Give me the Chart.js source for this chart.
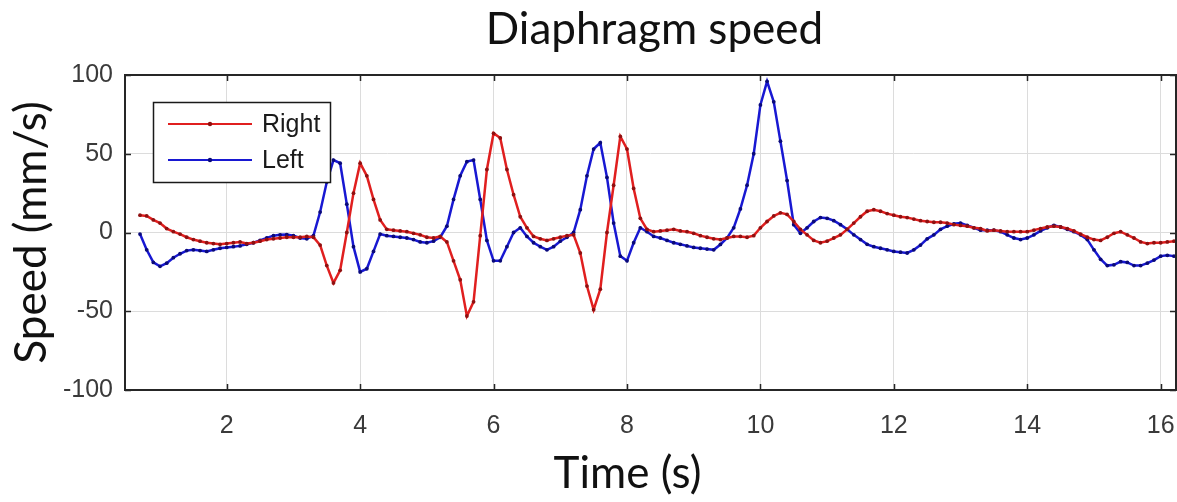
<!DOCTYPE html>
<html>
<head>
<meta charset="utf-8">
<script src="https://cdn.jsdelivr.net/npm/chart.js@4.4.0/dist/chart.umd.min.js"></script>
<style>
  html, body { margin: 0; padding: 0; background: #fff; }
  #wrap { width: 1177px; height: 502px; position: relative; }
</style>
</head>
<body>
<div id="wrap"><canvas id="c" width="1177" height="502"></canvas></div>
<script>
const chartTitle = "Diaphragm speed";
const xTitle = "Time (s)";
const yTitle = "Speed (mm/s)";
const seriesNames = ["Right", "Left"];
const xTicks = [2, 4, 6, 8, 10, 12, 14, 16];
const yTicks = [-100, -50, 0, 50, 100];

const times = [
  0.7,0.8,0.9,1.0,1.1,1.2,1.3,1.4,1.5,1.6,1.7,1.8,1.9,2.0,2.1,2.2,2.3,2.4,2.5,2.6,
  2.7,2.8,2.9,3.0,3.1,3.2,3.3,3.4,3.5,3.6,3.7,3.8,3.9,4.0,4.1,4.2,4.3,4.4,4.5,4.6,
  4.7,4.8,4.9,5.0,5.1,5.2,5.3,5.4,5.5,5.6,5.7,5.8,5.9,6.0,6.1,6.2,6.3,6.4,6.5,6.6,
  6.7,6.8,6.9,7.0,7.1,7.2,7.3,7.4,7.5,7.6,7.7,7.8,7.9,8.0,8.1,8.2,8.3,8.4,8.5,8.6,
  8.7,8.8,8.9,9.0,9.1,9.2,9.3,9.4,9.5,9.6,9.7,9.8,9.9,10.0,10.1,10.2,10.3,10.4,10.5,10.6,
  10.7,10.8,10.9,11.0,11.1,11.2,11.3,11.4,11.5,11.6,11.7,11.8,11.9,12.0,12.1,12.2,12.3,12.4,12.5,12.6,
  12.7,12.8,12.9,13.0,13.1,13.2,13.3,13.4,13.5,13.6,13.7,13.8,13.9,14.0,14.1,14.2,14.3,14.4,14.5,14.6,
  14.7,14.8,14.9,15.0,15.1,15.2,15.3,15.4,15.5,15.6,15.7,15.8,15.9,16.0,16.1,16.2
];

const rightSpeed = [
  11,10.5,8,6,2.5,0.5,-1,-3,-4.5,-5.5,-6.5,-7,-7.5,-7,-6.5,-6,-7,-6.5,-5.5,-4.5,
  -4,-3.5,-3,-3,-3,-2.5,-3,-8,-21,-32,-24,0,25,44,36,21,8,2,1.5,1,
  0.5,-0.5,-1.5,-3,-3.5,-2.5,-6,-18,-30,-53,-44,-2,40,63,60,40,24,10,3,-2.5,
  -4,-5,-4,-3,-2,-1.5,-13,-34,-49,-36,0,30,61,53,28,9,2,0.5,1,1.5,
  2,1,0.5,-0.5,-2,-3,-4,-4.5,-3.5,-2.5,-2.5,-3,-2,3,7,10.5,12.5,11.5,7,2,
  -1.5,-5,-6.5,-5.5,-3.5,-1.5,2,6,10,13.5,14.5,13.5,12,11,10,9.5,8.5,7.5,7,6.5,
  6.5,6,5,4.5,4,3,2.5,1,1.5,1,0.5,0.5,0.5,0.5,1.5,2.5,3.5,4,3.5,2.5,
  1,-1,-3,-4.5,-5,-3,-0.5,0.5,-1.5,-3.5,-6,-7,-6.5,-6.5,-6,-5.5
];

const leftSpeed = [
  -1,-11,-19,-21.5,-19.5,-16,-13.5,-11.5,-11,-11.5,-12,-11,-10,-9.5,-9,-8.5,-7.5,-6.5,-5,-3.5,
  -2,-1.5,-1.3,-2,-3.5,-4,-2,13,32,46,44,18,-9,-25,-23,-12,-1,-2,-2.5,-3,
  -3.5,-4.5,-6,-6.5,-5.5,-3,4,21,36,45,46,21,-5,-18,-18,-9,0,3,-2.5,-6.5,
  -9,-11,-9,-5.5,-3,0,14.5,36,53,57,35,6,-15,-18,-6.5,3,0.5,-2.5,-3.5,-5,
  -6.5,-7.5,-8.5,-9.5,-10,-10.5,-11,-7.6,-3.5,3,15,30,50,81,96,83,58,33,5,-0.5,
  3,7,9.5,9,7.5,5,2,-1.5,-4.5,-7.5,-9,-10,-11,-12,-12.5,-13,-11,-8,-4,-1.5,
  2,4,5.5,6,4.5,3,1.5,1.5,1.5,0.5,-1.5,-3.5,-4.5,-3.5,-1.5,1,3,4.5,3.5,2,
  0.5,-1.5,-4.5,-11,-17,-21,-20.5,-18.5,-19,-21,-21,-19.5,-17.5,-15,-14.5,-15
];

const seriesColors = ["#e01f1f", "#1818d2"];
const markerColors = ["#8f1010", "#0a0a78"];

function toPoints(vals) { return times.map((t, i) => ({ x: t, y: vals[i] })); }

const frameColor = "#262626";
const bigFont = "Lato, 'Open Sans', sans-serif";
const smallFont = "'Liberation Sans', Arial, sans-serif";

const boxPlugin = {
  id: "matlabBox",
  afterDatasetsDraw(chart) {
    const { ctx, chartArea: a, scales } = chart;
    ctx.save();
    ctx.strokeStyle = frameColor;
    ctx.lineWidth = 1.5;
    const tl = 6;
    ctx.beginPath();
    xTicks.forEach(v => {
      const px = Math.round(scales.x.getPixelForValue(v)) + 0.5;
      ctx.moveTo(px, a.bottom); ctx.lineTo(px, a.bottom - tl);
      ctx.moveTo(px, a.top); ctx.lineTo(px, a.top + tl);
    });
    yTicks.forEach(v => {
      const py = Math.round(scales.y.getPixelForValue(v)) + 0.5;
      ctx.moveTo(a.left, py); ctx.lineTo(a.left + tl, py);
      ctx.moveTo(a.right, py); ctx.lineTo(a.right - tl, py);
    });
    ctx.stroke();
    ctx.lineWidth = 2;
    ctx.strokeRect(a.left, a.top, a.right - a.left, a.bottom - a.top);

    // title centred over the axes
    ctx.fillStyle = "#111111";
    ctx.font = "44px " + bigFont;
    ctx.textAlign = "center";
    ctx.textBaseline = "middle";
    ctx.fillText(chartTitle, (a.left + a.right) / 2 + 4, 30);

    // x axis title (placed slightly left of centre, as in the reference)
    ctx.fillText(xTitle, (a.left + a.right) / 2 - 23, 474);

    // legend box (inside the axes, MATLAB style)
    const lx = 153, ly = 102, lw = 177, lh = 80;
    ctx.fillStyle = "#ffffff";
    ctx.fillRect(lx, ly, lw, lh);
    ctx.lineWidth = 1.5;
    ctx.strokeStyle = "#1a1a1a";
    ctx.strokeRect(lx + 0.5, ly + 0.5, lw, lh);
    chart.data.datasets.forEach((ds, i) => {
      const yy = ly + 22 + i * 36;
      ctx.strokeStyle = ds.borderColor;
      ctx.lineWidth = 1.8;
      ctx.beginPath(); ctx.moveTo(168, yy); ctx.lineTo(252, yy); ctx.stroke();
      ctx.fillStyle = ds.pointBackgroundColor;
      ctx.beginPath(); ctx.arc(210, yy, 2.2, 0, Math.PI * 2); ctx.fill();
      ctx.fillStyle = "#1a1a1a";
      ctx.font = "25px " + smallFont;
      ctx.textBaseline = "middle";
      ctx.textAlign = "left";
      ctx.fillText(ds.label, 262, yy + 1);
    });
    ctx.restore();
  }
};

new Chart(document.getElementById("c"), {
  type: "line",
  data: {
    datasets: [
      {
        label: seriesNames[0],
        data: toPoints(rightSpeed),
        borderColor: seriesColors[0],
        backgroundColor: seriesColors[0],
        pointBackgroundColor: markerColors[0],
        pointBorderColor: markerColors[0],
        borderWidth: 2.5,
        pointRadius: 1.9,
        pointBorderWidth: 0,
        tension: 0,
        fill: false
      },
      {
        label: seriesNames[1],
        data: toPoints(leftSpeed),
        borderColor: seriesColors[1],
        backgroundColor: seriesColors[1],
        pointBackgroundColor: markerColors[1],
        pointBorderColor: markerColors[1],
        borderWidth: 2.5,
        pointRadius: 1.9,
        pointBorderWidth: 0,
        tension: 0,
        fill: false
      }
    ]
  },
  options: {
    responsive: false,
    animation: false,
    devicePixelRatio: 1,
    layout: { autoPadding: false, padding: { left: 0, right: 1, top: 75, bottom: 0 } },
    plugins: {
      legend: { display: false },
      tooltip: { enabled: false },
      title: { display: false }
    },
    scales: {
      x: {
        type: "linear",
        min: 0.475,
        max: 16.23,
        afterBuildTicks: (s) => { s.ticks = xTicks.map(v => ({ value: v })); },
        afterFit: (s) => { s.height = 112; s.paddingLeft = 0; s.paddingRight = 0; },
        grid: { color: "#dcdcdc", lineWidth: 1, drawTicks: false, drawOnChartArea: true },
        border: { display: false },
        ticks: {
          padding: 21,
          color: "#3a3a3a",
          font: { family: smallFont, size: 25 },
          maxRotation: 0
        },
        title: { display: false, text: xTitle }
      },
      y: {
        min: -100,
        max: 100,
        afterBuildTicks: (s) => { s.ticks = yTicks.map(v => ({ value: v })); },
        afterFit: (s) => { s.width = 125; s.paddingTop = 0; s.paddingBottom = 0; },
        grid: { color: "#dcdcdc", lineWidth: 1, drawTicks: false },
        border: { display: false },
        ticks: {
          padding: 12,
          color: "#3a3a3a",
          font: { family: smallFont, size: 25 }
        },
        title: {
          display: true,
          text: yTitle,
          color: "#111111",
          font: { family: bigFont, size: 44 },
          padding: { top: 5, bottom: 0 }
        }
      }
    }
  },
  plugins: [boxPlugin]
});
</script>
</body>
</html>
